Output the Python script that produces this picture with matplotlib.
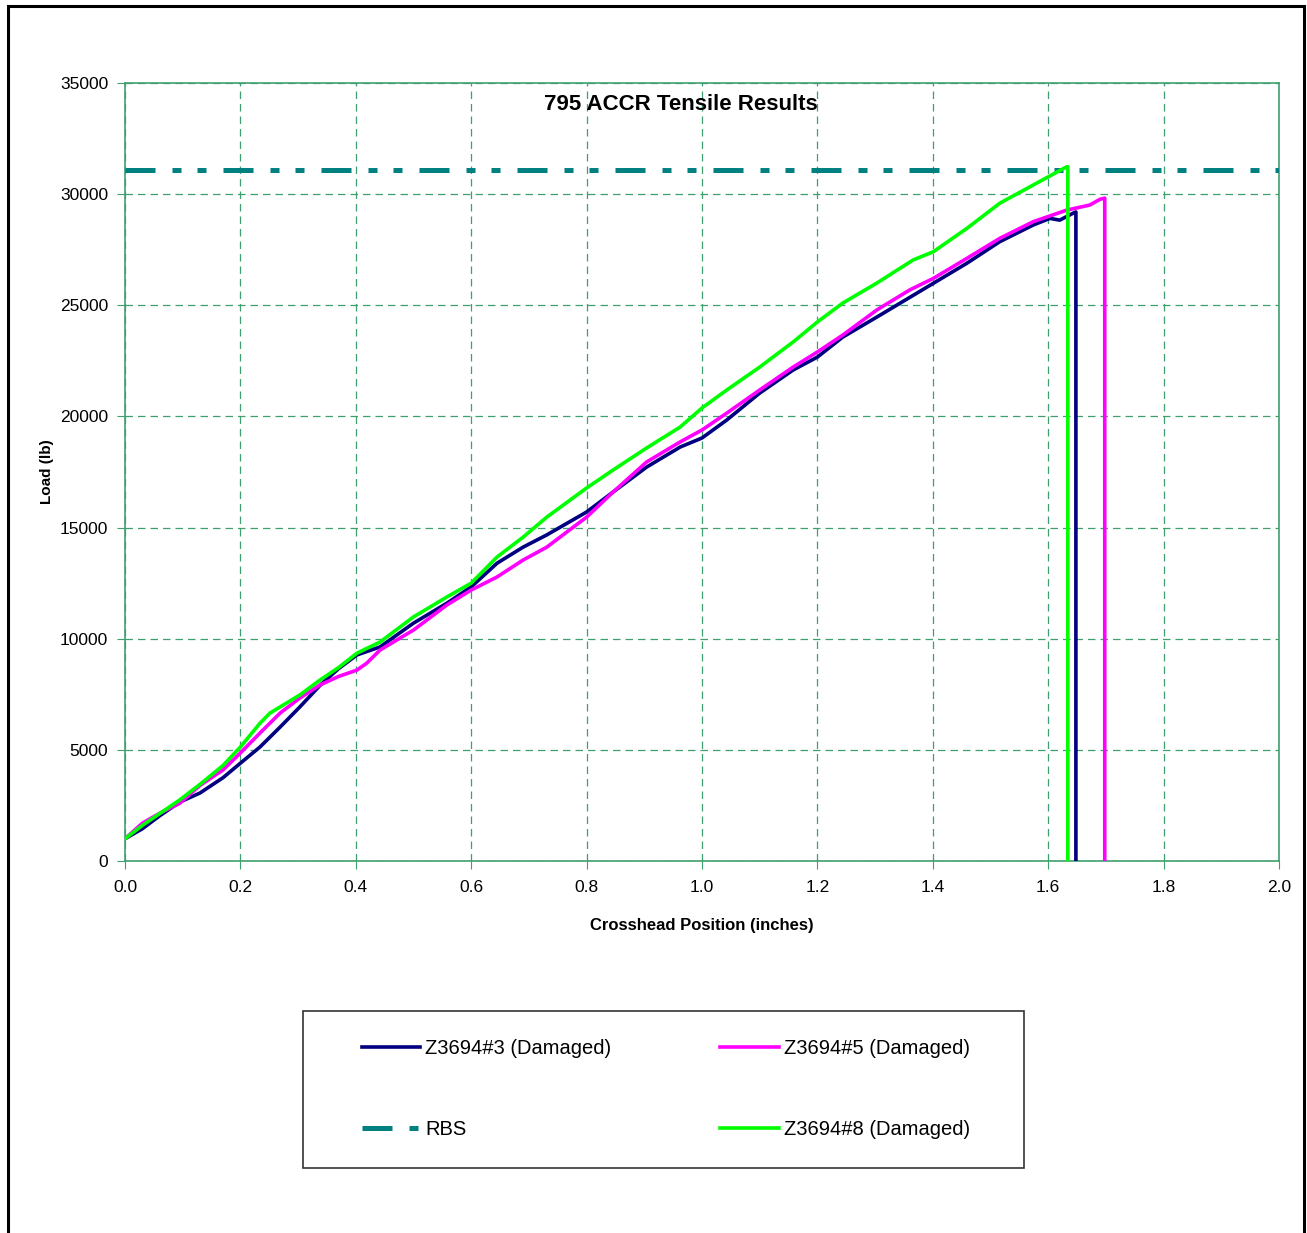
import matplotlib.pyplot as plt
from matplotlib.patches import Rectangle
from matplotlib.lines import Line2D

plt.rcParams['font.family'] = ['Liberation Sans', 'DejaVu Sans']

# Z3694#3 (Damaged) - crosshead position (in) vs load (lb)
x3 = [0.0, 0.03, 0.061, 0.095, 0.13, 0.17, 0.2, 0.234, 0.269, 0.303, 0.338, 0.37,
      0.402, 0.442, 0.5, 0.558, 0.6, 0.645, 0.69, 0.731, 0.8, 0.846, 0.904, 0.962,
      1.0, 1.043, 1.1, 1.158, 1.2, 1.244, 1.303, 1.343, 1.401, 1.459, 1.516, 1.574,
      1.603, 1.62, 1.643, 1.648, 1.648]
y3 = [1000, 1450, 2050, 2650, 3060, 3750, 4400, 5130, 6030, 6930, 7900, 8650,
      9270, 9630, 10700, 11600, 12330, 13400, 14120, 14670, 15700, 16600, 17720, 18620,
      19030, 19840, 21050, 22090, 22670, 23570, 24470, 25090, 25990, 26890, 27860, 28610,
      28910, 28830, 29140, 29200, 0]

# Z3694#5 (Damaged)
x5 = [0.0, 0.03, 0.061, 0.095, 0.13, 0.17, 0.2, 0.234, 0.269, 0.303, 0.338, 0.37,
      0.402, 0.419, 0.442, 0.5, 0.558, 0.6, 0.645, 0.69, 0.731, 0.8, 0.846, 0.904,
      0.962, 1.0, 1.043, 1.1, 1.158, 1.2, 1.244, 1.303, 1.36, 1.401, 1.459, 1.516,
      1.574, 1.632, 1.672, 1.69, 1.698, 1.698]
y5 = [1000, 1700, 2160, 2600, 3400, 4100, 4860, 5760, 6660, 7330, 7920, 8300,
      8590, 8900, 9490, 10390, 11520, 12190, 12780, 13540, 14120, 15470, 16600, 17950,
      18850, 19390, 20150, 21190, 22220, 22900, 23660, 24790, 25690, 26210, 27110, 28010,
      28760, 29280, 29510, 29770, 29820, 0]

# Z3694#8 (Damaged)
x8 = [0.0, 0.03, 0.061, 0.095, 0.13, 0.17, 0.2, 0.234, 0.251, 0.303, 0.338, 0.37,
      0.402, 0.442, 0.5, 0.558, 0.6, 0.645, 0.69, 0.731, 0.8, 0.846, 0.904, 0.962,
      1.0, 1.043, 1.1, 1.158, 1.2, 1.244, 1.303, 1.366, 1.401, 1.459, 1.516, 1.574,
      1.632, 1.634, 1.634]
y8 = [1000, 1600, 2150, 2750, 3450, 4300, 5130, 6200, 6650, 7470, 8140, 8700,
      9350, 9850, 10980, 11880, 12500, 13680, 14570, 15470, 16780, 17590, 18580, 19520,
      20380, 21190, 22220, 23350, 24250, 25100, 26000, 27040, 27410, 28460, 29590, 30410,
      31230, 31230, 0]

# rated breaking strength
rbs = 31100

fig = plt.figure(figsize=(13.07, 12.33), dpi=100)
W, H = 1307, 1233
ax = fig.add_axes([125 / W, (H - 861) / H, 1154 / W, 778 / H])

grid_c = '#3f9f6f'
ax.grid(True, color=grid_c, linestyle=(0, (6, 4)), linewidth=0.9)
for s in ax.spines.values():
    s.set_color(grid_c)
    s.set_linewidth(1.2)

rbs_style = (0, (6, 3.4, 1.8, 3.2, 1.8, 3.4))
ax.axhline(rbs, color='#008080', linewidth=3.6, linestyle=rbs_style, zorder=3)
l3, = ax.plot(x3, y3, color='#000080', linewidth=2.6, zorder=4)
l5, = ax.plot(x5, y5, color='#ff00ff', linewidth=2.6, zorder=4)
l8, = ax.plot(x8, y8, color='#00ff00', linewidth=2.6, zorder=5)

ax.set_xlim(0, 2.0)
ax.set_ylim(0, 35000)
ax.set_xticks([i / 5 for i in range(11)])
ax.set_xticklabels(['%.1f' % (i / 5) for i in range(11)])
ax.set_yticks(range(0, 35001, 5000))
ax.tick_params(direction='out', length=6, color=grid_c, labelsize=12.5)
ax.tick_params(axis='x', pad=8)
ax.tick_params(axis='y', pad=6)

fig.text(681 / W, 1 - 105 / H, '795 ACCR Tensile Results', fontsize=16,
         fontweight='bold', ha='center', va='center')
ax.set_xlabel('Crosshead Position (inches)', fontsize=12, fontweight='bold', labelpad=16)
ax.set_ylabel('Load (lb)', fontsize=11, fontweight='bold', labelpad=4)

# legend
handles = [l3, Line2D([], [], color='#008080', linewidth=3.6, linestyle=rbs_style), l5, l8]
labels = ['Z3694#3 (Damaged)', 'RBS', 'Z3694#5 (Damaged)', 'Z3694#8 (Damaged)']
fig.legend(handles, labels, ncol=2, loc='center', bbox_to_anchor=(666 / W, 1 - 1089 / H),
           frameon=False, fontsize=14.5, handlelength=2.9, handletextpad=0.25,
           columnspacing=5.4, labelspacing=3.1)
fig.patches.append(Rectangle((303 / W, 1 - 1168 / H), 721 / W, 157 / H,
                             transform=fig.transFigure, fill=False,
                             edgecolor='#333333', linewidth=1.2))

# outer chart border
fig.patches.append(Rectangle((8 / W, -0.01), 1296 / W, 1 - 6 / H + 0.01,
                             transform=fig.transFigure, fill=False,
                             edgecolor='black', linewidth=2.2))

fig.savefig('out.png', dpi=100)
